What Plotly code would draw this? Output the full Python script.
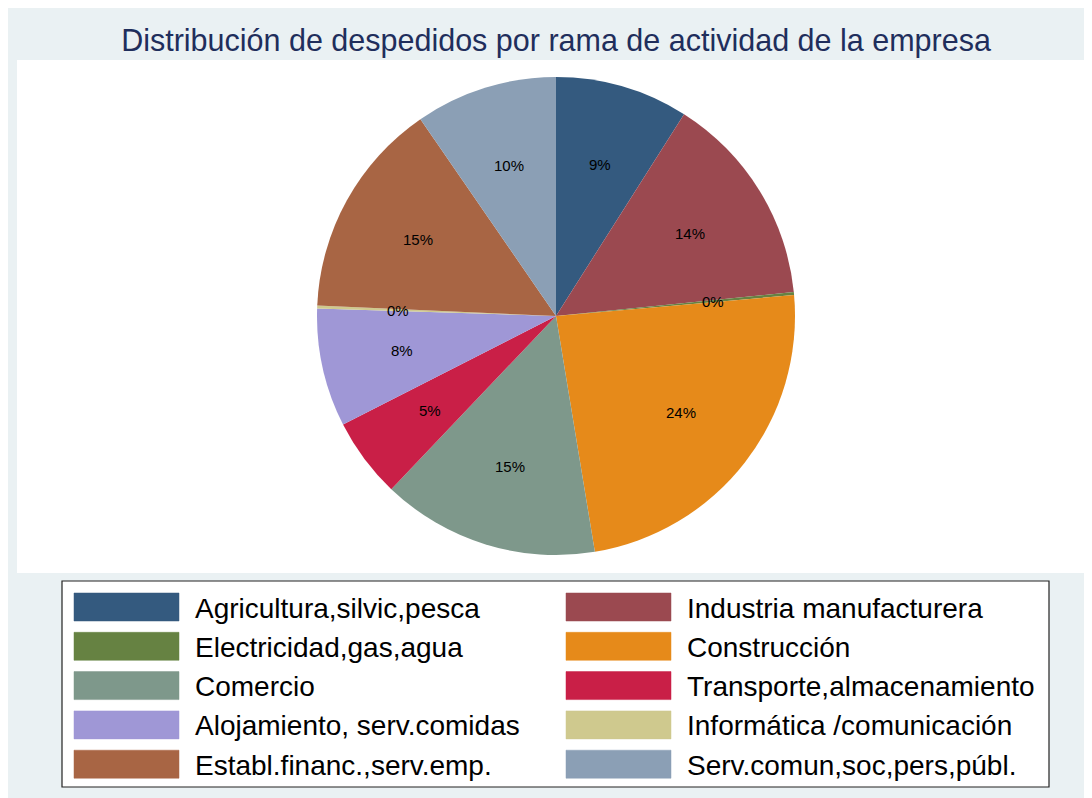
import math
import plotly.graph_objects as go

W, H = 1092, 798
OFF = 8  # the page body margin shifts the figure by 8px

# data (share of dismissals, %), clockwise from 12 o'clock
categories = ["Agricultura,silvic,pesca", "Industria manufacturera", "Electricidad,gas,agua",
              "Construcción", "Comercio", "Transporte,almacenamiento",
              "Alojamiento, serv.comidas", "Informática /comunicación",
              "Establ.financ.,serv.emp.", "Serv.comun,soc,pers,públ."]
values = [9.0, 14.4, 0.2, 23.8, 14.7, 5.4, 8.0, 0.2, 14.7, 9.6]
colors = ["#345a7f", "#9b4950", "#668242", "#e68a1a", "#7e988b",
          "#c91f47", "#9f97d6", "#cfc98e", "#a86544", "#8b9fb5"]

title = "Distribución de despedidos por rama de actividad de la empresa"


def px(x):
    return (x - OFF) / W


def py(y):
    return 1 - (y - OFF) / H


# pie placement in pixels (screen)
cx, cy, r = 556, 316, 239

fig = go.Figure()
fig.add_trace(go.Pie(
    labels=categories, values=values, sort=False, direction="clockwise", rotation=0,
    marker=dict(colors=colors, line=dict(width=0)),
    textinfo="none", hoverinfo="label+percent", showlegend=False,
    domain=dict(x=[px(cx - r), px(cx + r)], y=[py(cy + r), py(cy - r)]),
))

shapes = []
annotations = []

# white plot region (Stata-like)
shapes.append(dict(type="rect", xref="paper", yref="paper", x0=px(17), x1=1, y0=py(573), y1=py(60),
                   fillcolor="white", line_width=0, layer="below"))

# slice percentage labels
total = sum(values)
cum = 0
for v in values:
    mid = (cum + v / 2) / total * 2 * math.pi
    cum += v
    lx = cx + 0.66 * r * math.sin(mid)
    ly = cy - 0.66 * r * math.cos(mid)
    annotations.append(dict(x=px(lx), y=py(ly), xref="paper", yref="paper",
                            xanchor="center", yanchor="middle",
                            text=f"{round(v / total * 100)}%", showarrow=False,
                            font=dict(size=15, color="black")))

# legend box
shapes.append(dict(type="rect", xref="paper", yref="paper", x0=px(62), x1=px(1049),
                   y0=py(787), y1=py(581), fillcolor="white",
                   line=dict(color="#222222", width=1.2)))
for i, (name, c) in enumerate(zip(categories, colors)):
    row, col = i // 2, i % 2
    yc = 607 + row * 39.3
    sx = 74 if col == 0 else 566
    shapes.append(dict(type="rect", xref="paper", yref="paper", x0=px(sx), x1=px(sx + 105),
                       y0=py(yc + 14), y1=py(yc - 14), fillcolor=c, line=dict(color=c, width=0.5)))
    annotations.append(dict(x=px(sx + 119), y=py(yc + 1), xref="paper", yref="paper",
                            xanchor="left", yanchor="middle", text=name, showarrow=False,
                            font=dict(size=28, color="black")))

fig.update_layout(
    width=W, height=H,
    margin=dict(l=0, r=0, t=0, b=0),
    paper_bgcolor="#eaf1f3",
    font=dict(family="Liberation Sans, Arial, sans-serif"),
    title=dict(text=title, x=px(556), xanchor="center", y=py(40), yanchor="middle",
               font=dict(size=30.5, color="#1f2e5c")),
    shapes=shapes, annotations=annotations,
)
fig.write_html("out.html")
